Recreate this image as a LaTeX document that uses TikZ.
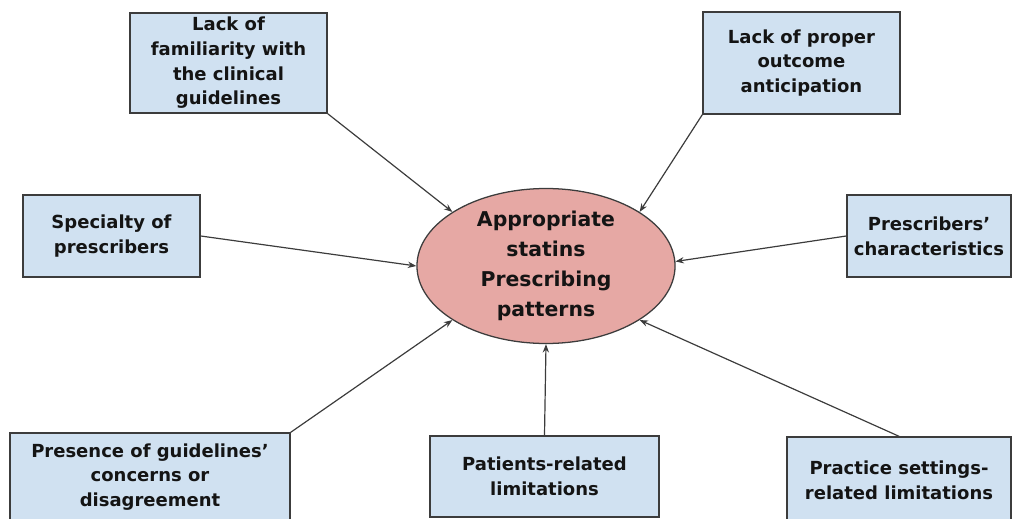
\documentclass[tikz,border=0pt]{standalone}
\usepackage{fontspec}
\setmainfont{DejaVu Sans}
\usepackage{tikz}
\usetikzlibrary{shapes.geometric,arrows.meta}
\definecolor{boxfill}{HTML}{D0E1F1}
\definecolor{ovalfill}{HTML}{E6A8A4}
\definecolor{edgec}{HTML}{3C3C3C}
\definecolor{textc}{HTML}{141414}

\begin{document}
\begin{tikzpicture}[x=0.025cm, y=-0.025cm,
  factor/.style={draw=edgec, line width=1pt, fill=boxfill, align=center, text=textc,
    inner sep=2pt, font=\fontsize{12.8}{17.5}\selectfont\bfseries},
  outcome/.style={ellipse, draw=edgec, line width=0.9pt, fill=ovalfill, align=center,
    text=textc, inner sep=0pt, minimum width=6.45cm, minimum height=3.55cm,
    font=\fontsize{14.5}{21.3}\selectfont\bfseries},
  link/.style={draw=edgec, line width=0.85pt, -{Stealth[length=6pt,width=4.5pt]}}]
  \useasboundingbox (0,0) rectangle (1014,519);
  % centre
  \node[outcome] (ell) at (546,266) {Appropriate\\statins\\Prescribing\\patterns};
  % factors round it
  \node[factor, minimum width=4.925cm, minimum height=2.5cm] (fam) at (228.5,63)
    {Lack of\\familiarity with\\the clinical\\guidelines};
  \node[factor, minimum width=4.925cm, minimum height=2.55cm] (ant) at (801.5,63)
    {Lack of proper\\outcome\\anticipation};
  \node[factor, minimum width=4.425cm, minimum height=2.05cm] (spec) at (111.5,236)
    {Specialty of\\prescribers};
  \node[factor, minimum width=4.1cm, minimum height=2.05cm] (char) at (929,236)
    {Prescribers'\\characteristics};
  \node[factor, minimum width=7cm, minimum height=2.2cm] (pres) at (150,477)
    {Presence of guidelines'\\concerns or\\disagreement};
  \node[factor, minimum width=5.725cm, minimum height=2.025cm] (pat) at (544.5,476.5)
    {Patients-related\\limitations};
  \node[factor, minimum width=5.6cm, minimum height=2.15cm] (prac) at (899,480)
    {Practice settings-\\related limitations};
  % arrows into the oval
  \draw[link] (fam.south east) -- (ell.150);
  \draw[link] (ant.south west) -- (ell.30);
  \draw[link] (spec.east) -- (ell.180);
  \draw[link] (char.west) -- (ell.2);
  \draw[link] (pres.north east) -- (ell.210);
  \draw[link] (pat.north) -- (ell.south);
  \draw[link] (prac.north) -- (ell.330);
\end{tikzpicture}
\end{document}
